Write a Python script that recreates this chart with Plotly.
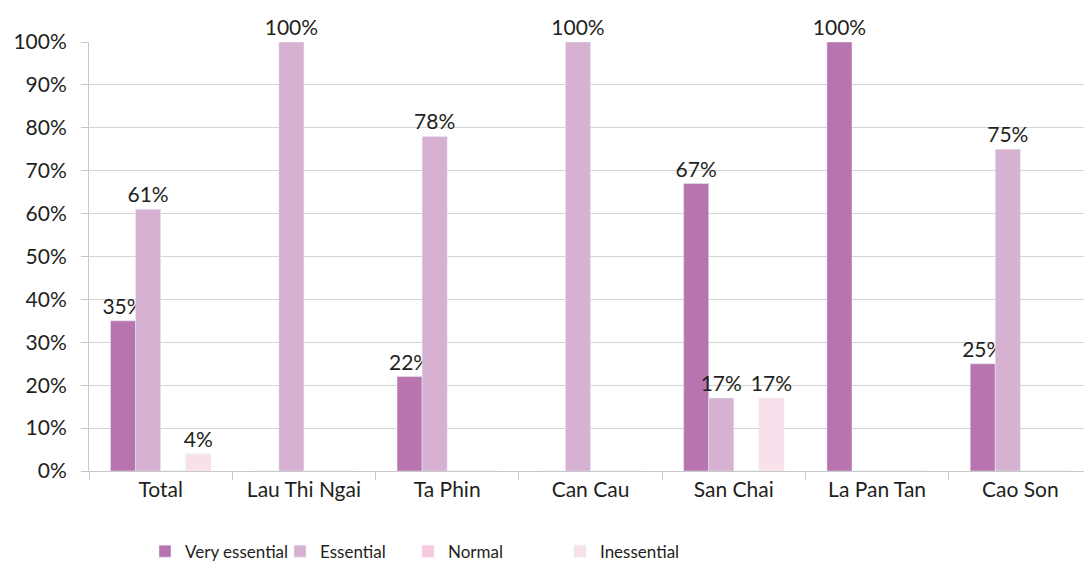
import plotly.graph_objects as go

categories = ["Total", "Lau Thi Ngai", "Ta Phin", "Can Cau", "San Chai", "La Pan Tan", "Cao Son"]
very_essential = [35, 0, 22, 0, 67, 100, 25]
essential = [61, 100, 78, 100, 17, 0, 75]
normal = [0, 0, 0, 0, 0, 0, 0]
inessential = [4, 0, 0, 0, 17, 0, 0]

series = [
    ("Very essential", very_essential, "#b874ae"),
    ("Essential", essential, "#d6b1d2"),
    ("Normal", normal, "#f8c9dd"),
    ("Inessential", inessential, "#f9e1eb"),
]

FONT = "Lato"
fig = go.Figure()
legend_ids = ["legend", "legend2", "legend3", "legend4"]
# page has an 8px body offset; plot area spans page x 89..1092 (fig x 81..1084)
legend_px = [162, 297, 425, 577]
legend_x = [(p - 17 - 89) / 1003 for p in legend_px]
for (name, vals, color), lid in zip(series, legend_ids):
    fig.add_trace(go.Bar(
        x=categories, y=vals, name=name, marker_color=color,
        text=[f"{v}%" if v > 0 else "" for v in vals],
        textposition="outside", cliponaxis=False, constraintext="none",
        textfont=dict(family=FONT, size=21, color="#231f20"),
        legend=lid,
    ))

layout_legends = {}
for lid, lx in zip(legend_ids, legend_x):
    layout_legends[lid] = dict(
        x=lx, y=0.006, xref="paper", yref="container", xanchor="left", yanchor="bottom",
        orientation="h", font=dict(family=FONT, size=17, color="#231f20"),
        bgcolor="rgba(0,0,0,0)", itemwidth=30, tracegroupgap=0,
    )

fig.update_layout(
    width=1092, height=565,
    margin=dict(l=81, r=8, t=34, b=102, autoexpand=False),
    paper_bgcolor="white", plot_bgcolor="white",
    barmode="group", bargap=0.3, bargroupgap=0,
    showlegend=True,
    uniformtext=dict(minsize=21, mode="show"),
    font=dict(family=FONT, size=21, color="#231f20"),
    xaxis=dict(
        showline=True, linecolor="#c8c8c8", linewidth=1, automargin=False,
        ticks="outside", tickson="boundaries", ticklen=8, tickcolor="#c8c8c8",
        tickfont=dict(family=FONT, size=21, color="#231f20"),
    ),
    yaxis=dict(
        range=[0, 100], dtick=10, ticksuffix="%", automargin=False,
        showgrid=True, gridcolor="#d4d4d4", gridwidth=1,
        showline=True, linecolor="#c8c8c8", linewidth=1,
        ticks="outside", ticklen=7, tickcolor="#c8c8c8",
        ticklabelstandoff=10,
        tickfont=dict(family=FONT, size=21, color="#231f20"),
        zeroline=False,
    ),
    **layout_legends,
)

fig.write_html("out.html")
